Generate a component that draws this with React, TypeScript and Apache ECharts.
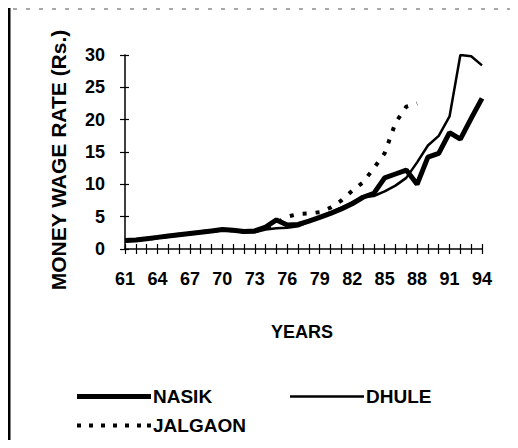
import React, { useEffect, useRef } from "react";
import * as echarts from "echarts";

const years = ["61","62","63","64","65","66","67","68","69","70","71","72","73","74","75","76","77","78","79","80","81","82","83","84","85","86","87","88","89","90","91","92","93","94"];

const nasik = [1.3,1.4,1.6,1.8,2.0,2.2,2.4,2.6,2.8,3.0,2.9,2.7,2.8,3.4,4.5,3.7,3.8,4.3,4.9,5.5,6.2,7.0,8.0,8.6,11.0,11.6,12.2,10.0,14.2,14.8,18.0,17.0,20.2,23.3];
const dhule = [1.2,1.3,1.5,1.7,1.9,2.1,2.3,2.5,2.7,2.9,2.8,2.6,2.6,3.0,3.2,3.3,3.5,4.2,5.0,5.7,6.4,7.2,8.0,8.2,8.9,9.8,11.0,13.4,16.0,17.5,20.5,30.0,29.8,28.4];
const jalgaon = [1.3,1.4,1.5,1.8,2.0,2.2,2.4,2.6,2.8,3.0,2.9,2.7,2.8,3.2,4.0,5.0,5.4,5.5,5.7,6.4,7.5,9.0,10.3,12.5,14.8,19.5,22.0,22.5,null,null,null,null,null,null];

const seriesNames = ["NASIK", "DHULE", "JALGAON"];
const yTitle = "MONEY WAGE RATE (Rs.)";
const xTitle = "YEARS";

const FONT = "'Liberation Sans', Arial, Helvetica, sans-serif";

const DOTS_ICON =
  "path://M0,0h4v4h-4z M12,0h4v4h-4z M24,0h4v4h-4z M36,0h4v4h-4z M48,0h4v4h-4z M60,0h4v4h-4z M70,0h4v4h-4z";

export default function App() {
  const ref = useRef<HTMLDivElement>(null);
  useEffect(() => {
    if (!ref.current) return;
    const chart = echarts.init(ref.current, null, { renderer: "svg" });
    const labelStyle = { color: "#000", fontSize: 18, fontWeight: "bold" as const, fontFamily: FONT };
    const legendText = { ...labelStyle, fontSize: 19, padding: [0, 0, 0, -3] };
    chart.setOption({
      animation: false,
      backgroundColor: "#fff",
      grid: { left: 125, right: 36, top: 55, bottom: 199 },
      xAxis: [
        {
          type: "category",
          data: years,
          boundaryGap: false,
          axisLine: { lineStyle: { color: "#000", width: 1.5 } },
          axisTick: { show: true, interval: 0, length: 5, lineStyle: { color: "#000", width: 1.2 } },
          axisLabel: { ...labelStyle, interval: 2, margin: 21 },
          splitLine: { show: false },
        },
        {
          type: "category",
          data: years,
          boundaryGap: false,
          position: "bottom",
          axisLine: { show: false },
          axisTick: { show: true, inside: true, interval: 0, length: 5, lineStyle: { color: "#000", width: 1.2 } },
          axisLabel: { show: false },
          splitLine: { show: false },
        },
      ],
      yAxis: [
        {
          type: "value",
          min: 0,
          max: 30,
          interval: 5,
          axisLine: { show: true, lineStyle: { color: "#000", width: 1.5 } },
          axisTick: { show: true, length: 5, lineStyle: { color: "#000", width: 1.2 } },
          axisLabel: { ...labelStyle, margin: 20 },
          splitLine: { show: false },
        },
        {
          type: "value",
          min: 0,
          max: 30,
          interval: 5,
          position: "left",
          axisLine: { show: false },
          axisTick: { show: true, inside: true, length: 4, lineStyle: { color: "#000", width: 1.2 } },
          axisLabel: { show: false },
          splitLine: { show: false },
        },
      ],
      legend: [
        {
          data: [{ name: seriesNames[0], icon: "rect" }],
          left: 72,
          top: 382,
          itemWidth: 74,
          itemHeight: 5,
          textStyle: legendText,
        },
        {
          data: [{ name: seriesNames[1], icon: "rect" }],
          left: 285,
          top: 382,
          itemWidth: 74,
          itemHeight: 2.5,
          textStyle: legendText,
        },
        {
          data: [{ name: seriesNames[2], icon: DOTS_ICON }],
          left: 72,
          top: 411,
          itemWidth: 74,
          itemHeight: 4,
          textStyle: legendText,
        },
      ],
      graphic: [
        { type: "line", shape: { x1: 9, y1: 8, x2: 9, y2: 448 }, style: { stroke: "#000", lineWidth: 3 } },
        { type: "line", shape: { x1: 0, y1: 9, x2: 518, y2: 9 }, style: { stroke: "#555", lineWidth: 1.2, lineDash: [4, 9] } },
        {
          type: "text",
          x: 58,
          y: 160,
          rotation: Math.PI / 2,
          style: { text: yTitle, fill: "#000", font: `bold 21px ${FONT}`, align: "center", verticalAlign: "middle" },
        },
        {
          type: "text",
          x: 302,
          y: 332,
          style: { text: xTitle, fill: "#000", font: `bold 18px ${FONT}`, align: "center", verticalAlign: "middle" },
        },
      ],
      series: [
        {
          name: seriesNames[0],
          type: "line",
          data: nasik,
          symbol: "none",
          lineStyle: { color: "#000", width: 5 },
          itemStyle: { color: "#000" },
          z: 3,
        },
        {
          name: seriesNames[1],
          type: "line",
          data: dhule,
          symbol: "none",
          lineStyle: { color: "#000", width: 2.5 },
          itemStyle: { color: "#000" },
          z: 4,
        },
        {
          name: seriesNames[2],
          type: "line",
          data: jalgaon,
          symbol: "none",
          lineStyle: { color: "#000", width: 4, type: [4, 9] },
          itemStyle: { color: "#000" },
          z: 2,
        },
      ],
    });
    return () => chart.dispose();
  }, []);
  return <div ref={ref} style={{ width: 518, height: 448, margin: -8 }} />;
}
